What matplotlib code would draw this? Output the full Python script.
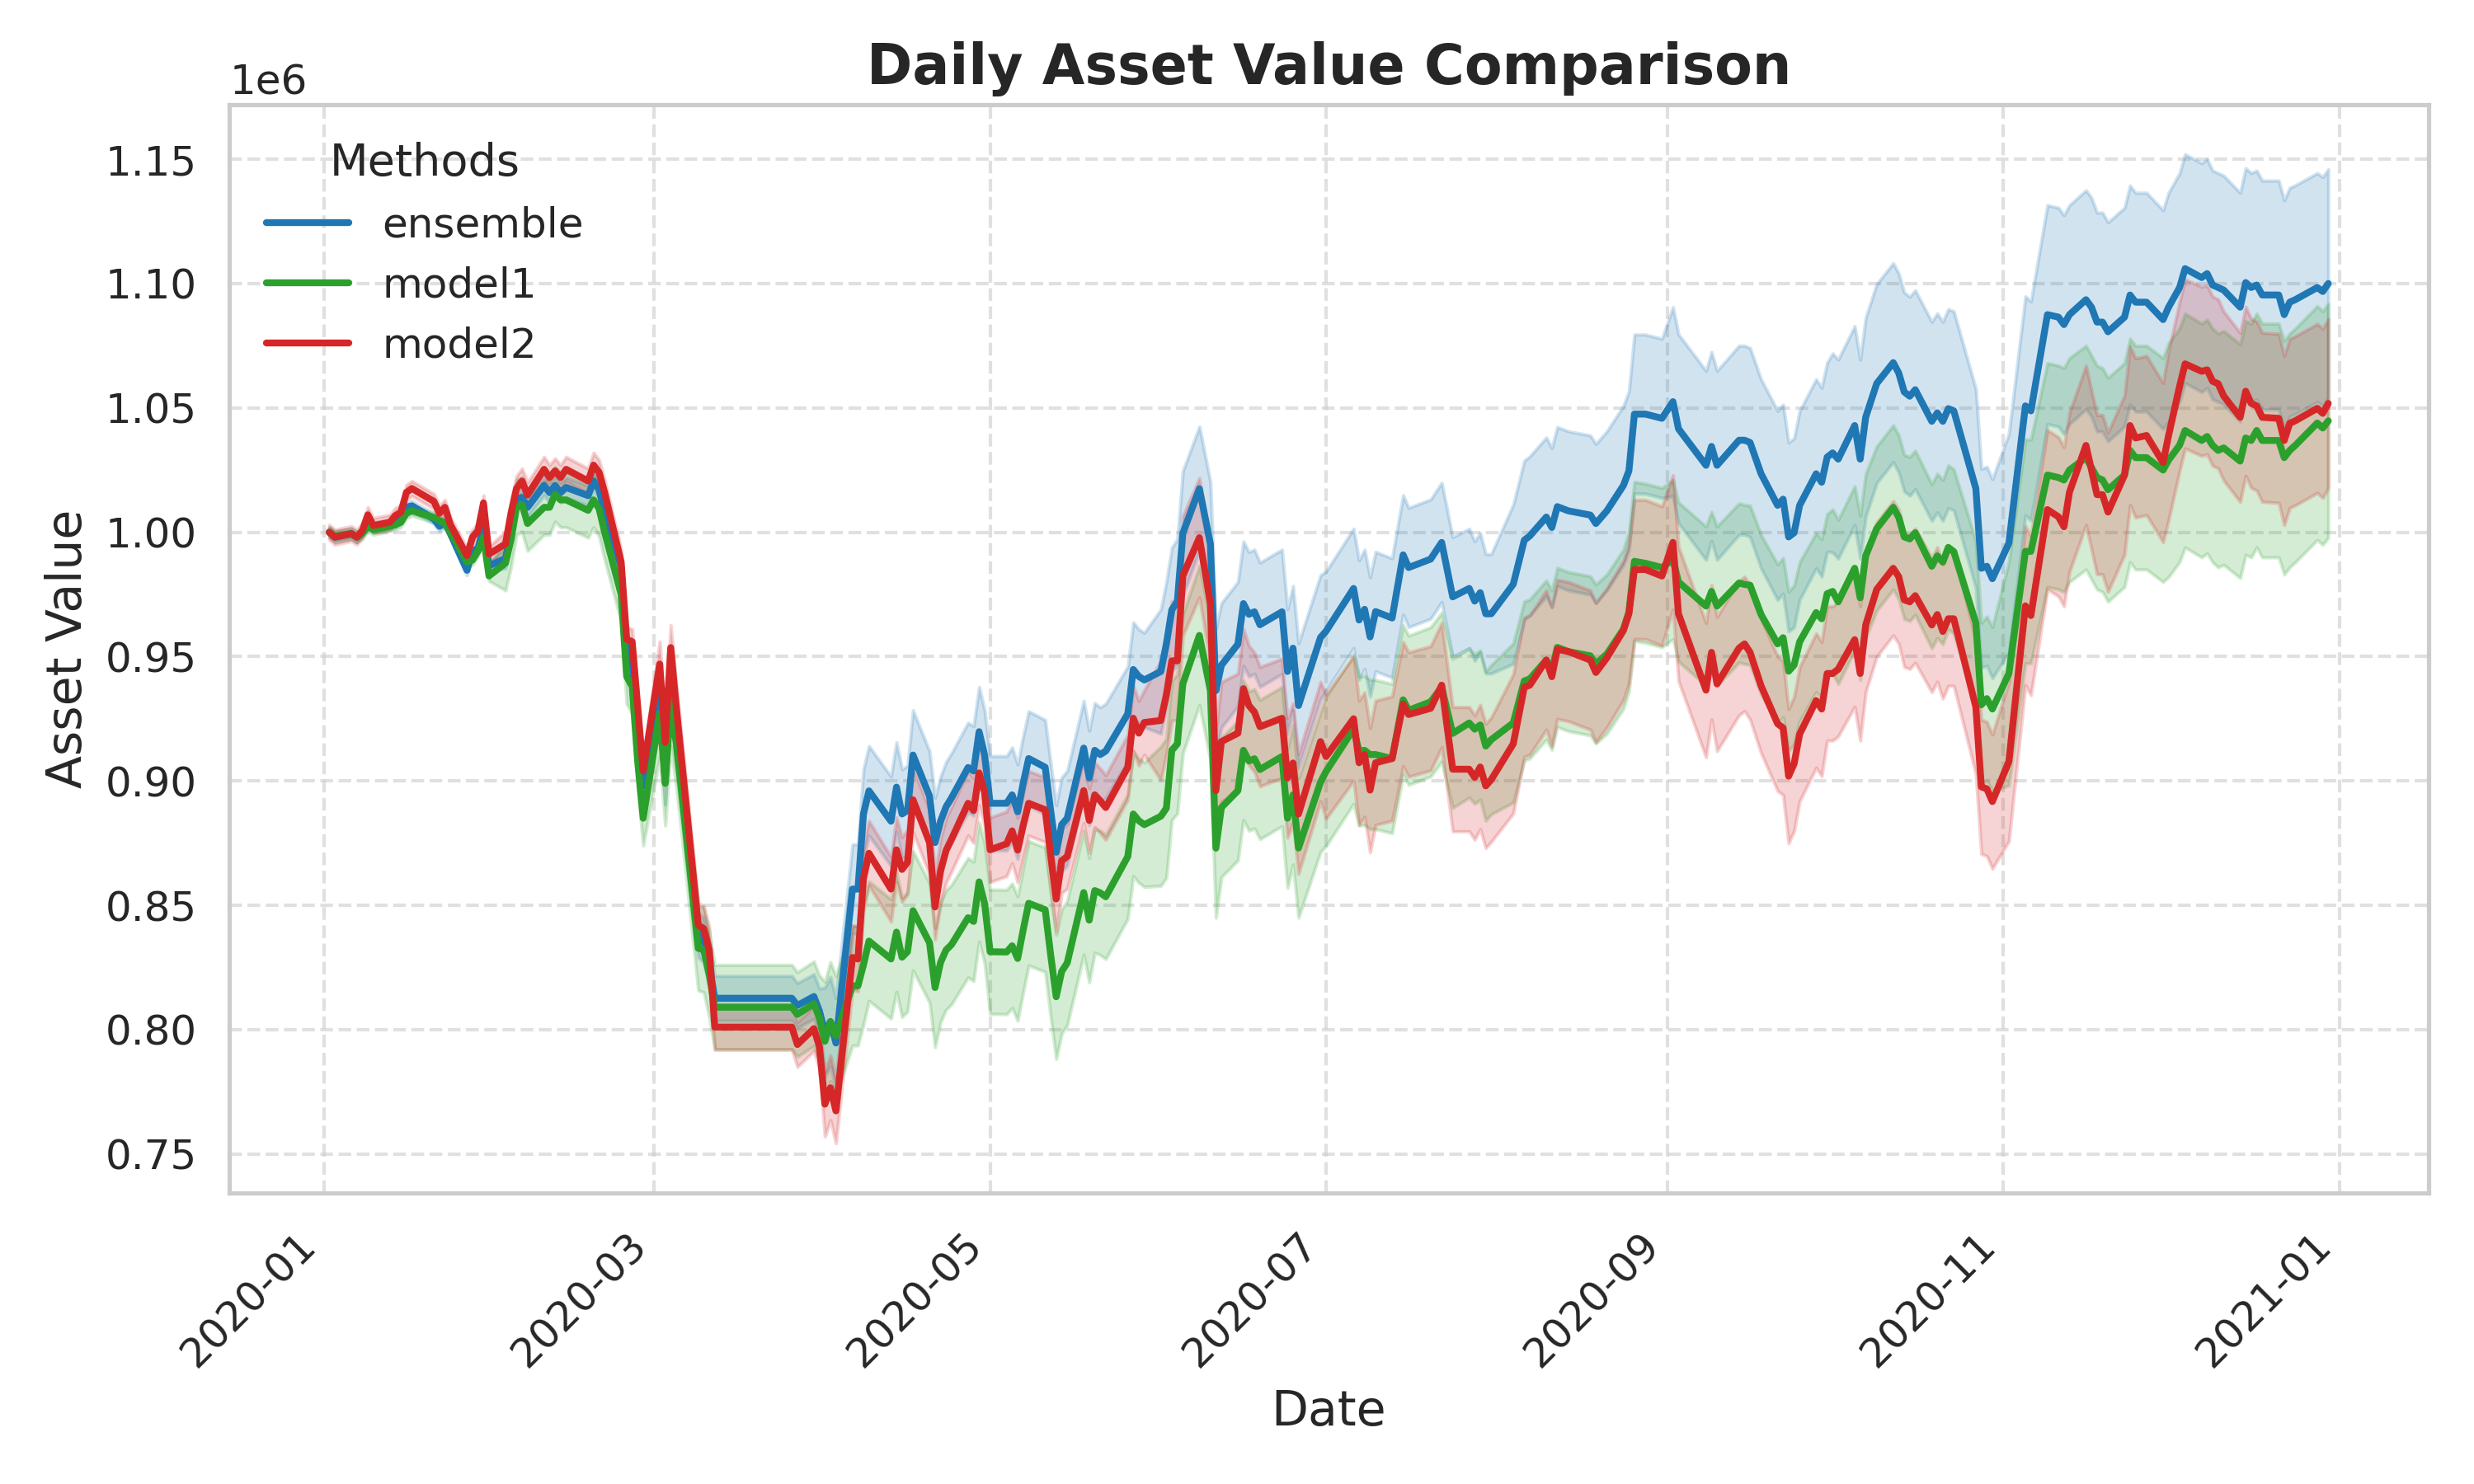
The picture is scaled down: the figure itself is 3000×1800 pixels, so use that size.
import matplotlib
matplotlib.use("Agg")
import matplotlib.pyplot as plt
import matplotlib.dates as mdates
import numpy as np
import pandas as pd
import seaborn as sns

# ---------------- data (asset value, in millions) ----------------
day_labels = [
    "01-02", "01-03", "01-06", "01-07", "01-08", "01-09", "01-10", "01-13", "01-14", "01-15",
    "01-16", "01-17", "01-21", "01-22", "01-23", "01-24", "01-27", "01-28", "01-29", "01-30",
    "01-31", "02-03", "02-04", "02-05", "02-06", "02-07", "02-10", "02-11", "02-12", "02-13",
    "02-14", "02-18", "02-19", "02-20", "02-21", "02-24", "02-25", "02-26", "02-27", "02-28",
    "03-02", "03-03", "03-04", "03-05", "03-06", "03-09", "03-10", "03-11", "03-12", "03-26",
    "03-27", "03-30", "03-31", "04-01", "04-02", "04-03", "04-06", "04-07", "04-08", "04-09",
    "04-13", "04-14", "04-15", "04-16", "04-17", "04-20", "04-21", "04-22", "04-23", "04-24",
    "04-27", "04-28", "04-29", "04-30", "05-01", "05-04", "05-05", "05-06", "05-07", "05-08",
    "05-11", "05-12", "05-13", "05-14", "05-15", "05-18", "05-19", "05-20", "05-21", "05-22",
    "05-26", "05-27", "05-28", "05-29", "06-01", "06-02", "06-03", "06-04", "06-05", "06-08",
    "06-10", "06-11", "06-12", "06-15", "06-16", "06-17", "06-18", "06-19", "06-23", "06-24",
    "06-25", "06-26", "06-30", "07-01", "07-06", "07-07", "07-08", "07-09", "07-10", "07-13",
    "07-15", "07-16", "07-20", "07-22", "07-24", "07-27", "07-28", "07-29", "07-30", "07-31",
    "08-04", "08-06", "08-07", "08-10", "08-11", "08-12", "08-14", "08-18", "08-19", "08-21",
    "08-24", "08-25", "08-26", "08-28", "08-31", "09-02", "09-03", "09-08", "09-09", "09-10",
    "09-14", "09-15", "09-16", "09-18", "09-21", "09-22", "09-23", "09-24", "09-25", "09-28",
    "09-29", "09-30", "10-01", "10-02", "10-05", "10-06", "10-07", "10-09", "10-12", "10-13",
    "10-14", "10-15", "10-16", "10-19", "10-20", "10-21", "10-22", "10-23", "10-27", "10-28",
    "10-29", "10-30", "11-02", "11-05", "11-06", "11-09", "11-11", "11-12", "11-13", "11-16",
    "11-17", "11-18", "11-19", "11-20", "11-23", "11-24", "11-25", "11-27", "11-30", "12-01",
    "12-03", "12-04", "12-07", "12-08", "12-09", "12-10", "12-11", "12-14", "12-15", "12-16",
    "12-17", "12-18", "12-21", "12-22", "12-23", "12-24", "12-28", "12-29", "12-30",
]

ensemble = [
    1.000, 0.998, 0.9994, 0.998, 1.000, 1.003, 1.002, 1.003, 1.004, 1.006,
    1.010, 1.0106, 1.0053, 1.0024, 1.004, 0.9994, 0.9847, 0.9924, 0.9935, 1.0018,
    0.9865, 0.9894, 1.001, 1.0135, 1.014, 1.010, 1.0188, 1.0159, 1.0188, 1.0159,
    1.018, 1.0147, 1.0206, 1.017, 1.008, 0.986, 0.952, 0.948, 0.922, 0.898,
    0.935, 0.8995, 0.942, 0.925, 0.900, 0.838, 0.836, 0.826, 0.8126, 0.8126,
    0.8097, 0.8133, 0.8075, 0.7989, 0.8032, 0.7946, 0.8565, 0.8565, 0.8867, 0.896,
    0.8838, 0.8975, 0.8867, 0.8881, 0.9104, 0.8939, 0.8752, 0.8838, 0.8896, 0.8932,
    0.9054, 0.904, 0.9198, 0.9104, 0.891, 0.891, 0.8944, 0.8876, 0.899, 0.909,
    0.9055, 0.888, 0.8713, 0.8824, 0.885, 0.9132, 0.9012, 0.9123, 0.9106, 0.912,
    0.927, 0.9448, 0.942, 0.9406, 0.944, 0.955, 0.9688, 0.9722, 0.9996, 1.0175,
    0.9953, 0.9363, 0.9465, 0.955, 0.9713, 0.967, 0.968, 0.9628, 0.968, 0.944,
    0.9534, 0.9303, 0.9577, 0.9602, 0.9774, 0.9647, 0.969, 0.9579, 0.9681, 0.9655,
    0.9909, 0.9858, 0.9892, 0.9959, 0.974, 0.9774, 0.9723, 0.9757, 0.9672, 0.9672,
    0.9791, 0.9968, 0.9985, 1.0061, 1.0019, 1.0103, 1.0086, 1.0069, 1.0035, 1.0086,
    1.0188, 1.0247, 1.0475, 1.0475, 1.0458, 1.0525, 1.0416, 1.0269, 1.0345, 1.0269,
    1.037, 1.037, 1.0361, 1.0235, 1.0108, 1.0133, 0.9981, 0.9998, 1.0108, 1.0235,
    1.0201, 1.0302, 1.0319, 1.0294, 1.0429, 1.0294, 1.0463, 1.0598, 1.0682, 1.064,
    1.0564, 1.0547, 1.0573, 1.0446, 1.048, 1.0446, 1.0497, 1.0488, 1.0176, 0.9855,
    0.9863, 0.9813, 0.9956, 1.0508, 1.0488, 1.0875, 1.0865, 1.0835, 1.0875, 1.0935,
    1.0905, 1.0845, 1.0845, 1.0806, 1.0865, 1.0954, 1.0925, 1.0925, 1.0855, 1.0905,
    1.0984, 1.106, 1.1024, 1.104, 1.0994, 1.0984, 1.0974, 1.0905, 1.1004, 1.0984,
    1.0994, 1.0954, 1.0954, 1.0875, 1.0925, 1.0935, 1.0984, 1.0968, 1.100,
]

model1 = [
    1.000, 0.9985, 0.9994, 0.998, 0.9995, 1.0024, 1.001, 1.0024, 1.003, 1.004,
    1.0076, 1.0086, 1.0059, 1.0047, 1.0035, 1.000, 0.988, 0.9888, 0.9924, 0.998,
    0.9824, 0.9876, 0.997, 1.010, 1.0112, 1.0035, 1.010, 1.010, 1.0153, 1.013,
    1.013, 1.0088, 1.013, 1.0094, 1.000, 0.975, 0.942, 0.938, 0.908, 0.885,
    0.927, 0.899, 0.931, 0.915, 0.895, 0.8327, 0.832, 0.822, 0.809, 0.809,
    0.8061, 0.8104, 0.8047, 0.7953, 0.8032, 0.7975, 0.8176, 0.8176, 0.826, 0.8356,
    0.8284, 0.8392, 0.8291, 0.8313, 0.8478, 0.8349, 0.8169, 0.827, 0.832, 0.8342,
    0.845, 0.8435, 0.8594, 0.8507, 0.8313, 0.8312, 0.8337, 0.8286, 0.840, 0.8508,
    0.8482, 0.830, 0.8132, 0.8234, 0.8268, 0.8551, 0.844, 0.8559, 0.855, 0.8534,
    0.8696, 0.8867, 0.884, 0.8824, 0.8858, 0.889, 0.9123, 0.9149, 0.939, 0.9585,
    0.9363, 0.873, 0.8893, 0.8961, 0.9123, 0.908, 0.9089, 0.9046, 0.9098, 0.885,
    0.8944, 0.873, 0.8995, 0.9038, 0.9208, 0.912, 0.9123, 0.9106, 0.9106, 0.909,
    0.9326, 0.9284, 0.9318, 0.9377, 0.9191, 0.9233, 0.9208, 0.9225, 0.914, 0.9166,
    0.9233, 0.9402, 0.941, 0.9486, 0.9445, 0.9537, 0.952, 0.9503, 0.947, 0.951,
    0.961, 0.968, 0.9883, 0.9875, 0.9858, 0.989, 0.980, 0.9703, 0.9762, 0.9703,
    0.9796, 0.979, 0.9787, 0.9669, 0.9551, 0.9576, 0.9441, 0.9466, 0.9559, 0.9677,
    0.9652, 0.9753, 0.9762, 0.972, 0.9855, 0.9736, 0.9905, 1.0015, 1.010, 1.006,
    0.9981, 0.9973, 0.9998, 0.9863, 0.9905, 0.988, 0.9939, 0.9922, 0.9635, 0.9306,
    0.9331, 0.9289, 0.9432, 0.9923, 0.9923, 1.023, 1.022, 1.021, 1.025, 1.030,
    1.026, 1.022, 1.021, 1.0171, 1.023, 1.0329, 1.030, 1.030, 1.025, 1.029,
    1.035, 1.0409, 1.0369, 1.0385, 1.0349, 1.0329, 1.0339, 1.0286, 1.0379, 1.0369,
    1.0409, 1.0369, 1.0369, 1.030, 1.0329, 1.0349, 1.0439, 1.0419, 1.0448,
]

model2 = [
    1.000, 0.998, 0.9994, 0.998, 1.0006, 1.007, 1.0027, 1.004, 1.0067, 1.008,
    1.016, 1.0176, 1.0124, 1.0076, 1.010, 1.003, 0.9906, 0.998, 1.0006, 1.0118,
    0.9912, 0.9953, 1.0076, 1.0176, 1.0206, 1.015, 1.0253, 1.022, 1.0247, 1.022,
    1.0253, 1.0206, 1.027, 1.024, 1.016, 0.988, 0.957, 0.956, 0.930, 0.904,
    0.947, 0.9155, 0.9536, 0.930, 0.908, 0.842, 0.8406, 0.832, 0.801, 0.801,
    0.794, 0.8004, 0.7932, 0.770, 0.7766, 0.7673, 0.829, 0.8284, 0.8608, 0.8709,
    0.8565, 0.8723, 0.8644, 0.8673, 0.8924, 0.8752, 0.8493, 0.8637, 0.872, 0.8766,
    0.891, 0.8881, 0.9032, 0.8953, 0.8723, 0.8747, 0.8799, 0.8722, 0.882, 0.891,
    0.8884, 0.870, 0.8525, 0.8679, 0.8696, 0.8961, 0.8841, 0.8944, 0.892, 0.8893,
    0.9055, 0.9252, 0.9192, 0.9235, 0.9243, 0.9346, 0.9483, 0.9483, 0.9825, 0.9978,
    0.9713, 0.8961, 0.9158, 0.9192, 0.9371, 0.9303, 0.9277, 0.9218, 0.9252, 0.9012,
    0.9072, 0.8867, 0.9158, 0.9098, 0.925, 0.9073, 0.9106, 0.8963, 0.9073, 0.909,
    0.9309, 0.9267, 0.9292, 0.9385, 0.9047, 0.9047, 0.9014, 0.9056, 0.898, 0.9005,
    0.9149, 0.9377, 0.9385, 0.9486, 0.9419, 0.9529, 0.952, 0.9486, 0.9436, 0.9495,
    0.9605, 0.9672, 0.985, 0.985, 0.9824, 0.9959, 0.9672, 0.9365, 0.9517, 0.939,
    0.9534, 0.9551, 0.9517, 0.9382, 0.923, 0.9213, 0.9019, 0.9069, 0.9188, 0.9323,
    0.9289, 0.9432, 0.9432, 0.9449, 0.9568, 0.9432, 0.9627, 0.977, 0.9855, 0.9821,
    0.9728, 0.972, 0.9745, 0.9627, 0.9669, 0.9601, 0.9652, 0.9652, 0.9297, 0.8976,
    0.8968, 0.8917, 0.9078, 0.9704, 0.9665, 1.0091, 1.0062, 1.0022, 1.0161, 1.0349,
    1.025, 1.0151, 1.0151, 1.0081, 1.023, 1.0429, 1.0379, 1.0389, 1.028, 1.0389,
    1.0587, 1.0677, 1.0647, 1.0653, 1.0607, 1.0597, 1.0548, 1.0462, 1.0567, 1.0518,
    1.0508, 1.0462, 1.0458, 1.0369, 1.0438, 1.0448, 1.0498, 1.0478, 1.0518,
]

# half-width of the shaded band per month (Jan..Dec), in millions
ensemble_band = [0.002, 0.004, 0.009, 0.018, 0.019, 0.025, 0.024, 0.032, 0.038, 0.040, 0.044, 0.046]
model1_band = [0.002, 0.011, 0.017, 0.024, 0.025, 0.028, 0.030, 0.032, 0.032, 0.033, 0.045, 0.047]
model2_band = [0.003, 0.005, 0.009, 0.013, 0.013, 0.024, 0.025, 0.028, 0.027, 0.027, 0.032, 0.034]

methods = ["ensemble", "model1", "model2"]
colors = ["#1f77b4", "#2ca02c", "#d62728"]
SCALE = 1e6

# ---------------- plot ----------------
sns.set_theme(style="whitegrid")
plt.rcParams["font.family"] = ["DejaVu Sans"]

dates = pd.to_datetime(["2020-" + d for d in day_labels])
month_idx = dates.month.values - 1

fig, ax = plt.subplots(figsize=(10, 6), dpi=300)
fig.subplots_adjust(left=0.0927, right=0.9815, top=0.9294, bottom=0.1963)

series = [ensemble, model1, model2]
bands = [ensemble_band, model1_band, model2_band]
for name, vals, band, col in zip(methods, series, bands, colors):
    v = np.array(vals) * SCALE
    hw = np.array(band)[month_idx] * SCALE
    ax.fill_between(dates, v - hw, v + hw, color=col, alpha=0.2)
    ax.plot(dates, v, color=col, lw=2, label=name)

ax.xaxis.set_major_locator(mdates.MonthLocator(interval=2))
ax.xaxis.set_major_formatter(mdates.DateFormatter("%Y-%m"))
plt.setp(ax.get_xticklabels(), rotation=45, ha="right")
ax.tick_params(axis="both", labelsize=12)
ax.yaxis.get_offset_text().set_fontsize(12)

ax.grid(True, linestyle="--", alpha=0.6)
ax.set_title("Daily Asset Value Comparison", fontsize=16, fontweight="bold")
ax.set_xlabel("Date", fontsize=14)
ax.set_ylabel("Asset Value", fontsize=14)
ax.legend(title="Methods", loc="upper left", frameon=False, fontsize=12, title_fontsize=13)

fig.savefig("out.png", dpi=300)
